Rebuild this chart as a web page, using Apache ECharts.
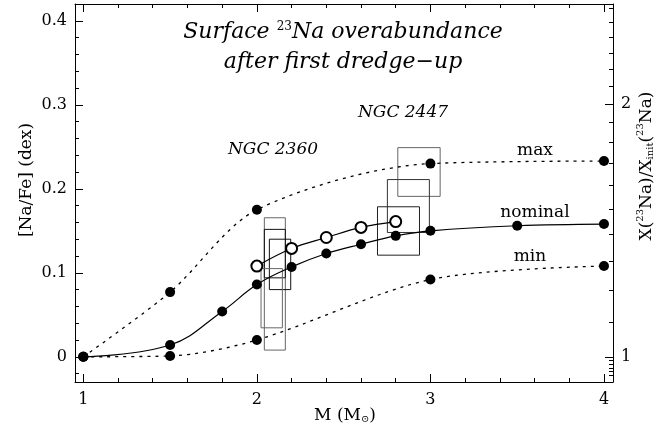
<!DOCTYPE html>
<html><head><meta charset="utf-8">
<script src="https://cdn.jsdelivr.net/npm/echarts@6/dist/echarts.min.js"></script>
<style>html,body{margin:0;padding:0;background:#fff}#c{width:666px;height:427px}</style>
</head><body><div id="c"></div>
<script>
// ---- data ----
const nominalMass = [1.0, 1.5, 1.8, 2.0, 2.2, 2.4, 2.6, 2.8, 3.0, 3.5, 4.0];
const nominalNaFe = [0, 0.014, 0.054, 0.086, 0.107, 0.123, 0.134, 0.144, 0.150, 0.156, 0.158];
const maxMass = [1.0, 1.5, 2.0, 3.0, 4.0];
const maxNaFe = [0, 0.077, 0.175, 0.230, 0.233];
const minMass = [1.0, 1.5, 2.0, 3.0, 4.0];
const minNaFe = [0, 0.001, 0.020, 0.092, 0.108];
const rotMass = [2.0, 2.2, 2.4, 2.6, 2.8];
const rotNaFe = [0.108, 0.129, 0.142, 0.154, 0.161];
// observational boxes: [massLow, massHigh, naFeLow, naFeHigh]
const ngc2360Boxes = [[2.043, 2.164, 0.008, 0.1655], [2.043, 2.164, 0.094, 0.1517], [2.072, 2.195, 0.080, 0.140], [2.024, 2.147, 0.0345, 0.105]];
const ngc2447Boxes = [[2.812, 3.056, 0.191, 0.249], [2.752, 2.994, 0.148, 0.211], [2.695, 2.937, 0.121, 0.1786]];
const ngc2360Shades = ['#666', '#111', '#111', '#666'];
const ngc2447Shades = ['#666', '#333', '#222'];
// ticks
const xMajorTicks = [1, 2, 3, 4];
const xMinorTicks = [1.2, 1.4, 1.6, 1.8, 2.2, 2.4, 2.6, 2.8, 3.2, 3.4, 3.6, 3.8];
const yMajorTicks = [0, 0.1, 0.2, 0.3, 0.4];
const yMinorTicks = [-0.02, 0.02, 0.04, 0.06, 0.08, 0.12, 0.14, 0.16, 0.18, 0.22, 0.24, 0.26, 0.28, 0.32, 0.34, 0.36, 0.38];
const ratioMajorTicks = [1, 2];
const ratioMinorTicks = [0.95, 0.96, 0.97, 0.98, 0.99, 1.1, 1.2, 1.3, 1.4, 1.5, 1.6, 1.7, 1.8, 1.9, 2.1, 2.2, 2.3, 2.4, 2.5, 2.6];

const X_MIN = 0.952, X_MAX = 4.052, Y_MIN = -0.03, Y_MAX = 0.42;
const SERIF = 'DejaVu Serif';
const zip = (a, b) => a.map((v, i) => [v, b[i]]);
const log10 = v => Math.log10(v);

function xAx(pos, vals, len, showLine, showLabel) {
  return {
    type: 'value', position: pos, min: X_MIN, max: X_MAX,
    axisLine: { show: showLine, onZero: false, lineStyle: { color: '#000', width: 1 } },
    axisTick: { show: true, inside: true, length: len, customValues: vals, lineStyle: { color: '#000', width: 1 } },
    axisLabel: showLabel ? { show: true, customValues: vals, margin: 10, color: '#000', fontFamily: SERIF, fontSize: 16, formatter: v => String(v) } : { show: false },
    splitLine: { show: false }
  };
}
function yAx(pos, vals, len, showLine, labelFmt) {
  return {
    type: 'value', position: pos, min: Y_MIN, max: Y_MAX,
    axisLine: { show: showLine, onZero: false, lineStyle: { color: '#000', width: 1 } },
    axisTick: { show: true, inside: true, length: len, customValues: vals, lineStyle: { color: '#000', width: 1 } },
    axisLabel: labelFmt ? { show: true, customValues: vals, margin: 8, color: '#000', fontFamily: SERIF, fontSize: 16, formatter: labelFmt } : { show: false },
    splitLine: { show: false }
  };
}

function boxSeries(boxes, shades) {
  return {
    type: 'custom', silent: true, z: 1,
    data: boxes.map((b, i) => [b[0], b[1], b[2], b[3], i]),
    encode: { x: [0, 1], y: [2, 3] },
    renderItem: (params, api) => {
      const p1 = api.coord([api.value(0), api.value(3)]);
      const p2 = api.coord([api.value(1), api.value(2)]);
      return {
        type: 'rect',
        shape: { x: p1[0], y: p1[1], width: p2[0] - p1[0], height: p2[1] - p1[1] },
        style: { fill: 'none', stroke: shades[api.value(4)], lineWidth: 1 }
      };
    }
  };
}

const chart = echarts.init(document.getElementById('c'), null, { renderer: 'canvas' });
const richBase = {
  n: { fontFamily: SERIF, fontSize: 17, lineHeight: 20, color: '#000', verticalAlign: 'bottom' },
  sup: { fontFamily: SERIF, fontSize: 10, lineHeight: 12, color: '#000', verticalAlign: 'top' },
  sub: { fontFamily: SERIF, fontSize: 10, lineHeight: 10, color: '#000', verticalAlign: 'bottom' }
};
const richTitle = {
  it: { fontFamily: SERIF, fontStyle: 'italic', fontSize: 22, lineHeight: 22, color: '#000', verticalAlign: 'bottom' },
  sup: { fontFamily: SERIF, fontSize: 12, lineHeight: 14, color: '#000', verticalAlign: 'top' }
};

chart.setOption({
  animation: false,
  backgroundColor: '#fff',
  grid: { left: 75, right: 53, top: 4, bottom: 45, containLabel: false },
  xAxis: [
    xAx('bottom', xMajorTicks, 8, true, true),
    xAx('bottom', xMinorTicks, 4, false, false),
    xAx('top', xMajorTicks, 8, true, false),
    xAx('top', xMinorTicks, 4, false, false)
  ],
  yAxis: [
    yAx('left', yMajorTicks, 8, true, v => String(Math.round(v * 10) / 10)),
    yAx('left', yMinorTicks, 4, false, null),
    yAx('right', ratioMajorTicks.map(log10), 8, true, v => String(Math.round(Math.pow(10, v)))),
    yAx('right', ratioMinorTicks.map(log10), 4, false, null)
  ],
  series: [
    boxSeries(ngc2360Boxes, ngc2360Shades),
    boxSeries(ngc2447Boxes, ngc2447Shades),
    {
      type: 'line', data: zip(maxMass, maxNaFe), smooth: 0.3, z: 3,
      symbol: 'circle', symbolSize: 10, itemStyle: { color: '#000' },
      lineStyle: { color: '#000', width: 1.3, type: [3, 5] }
    },
    {
      type: 'line', data: zip(minMass, minNaFe), smooth: 0.3, z: 3,
      symbol: 'circle', symbolSize: 10, itemStyle: { color: '#000' },
      lineStyle: { color: '#000', width: 1.3, type: [3, 5] }
    },
    {
      type: 'line', data: zip(nominalMass, nominalNaFe), smooth: 0.4, z: 4,
      symbol: 'circle', symbolSize: 10, itemStyle: { color: '#000' },
      lineStyle: { color: '#000', width: 1.2 }
    },
    {
      type: 'line', data: zip(rotMass, rotNaFe), smooth: 0.4, z: 4,
      symbol: 'emptyCircle', symbolSize: 11, itemStyle: { color: '#000', borderWidth: 1 },
      lineStyle: { color: '#000', width: 1.2 }
    }
  ],
  graphic: [
    { type: 'text', x: 343, y: 32, style: { text: '{it|Surface }{sup|23}{it|Na overabundance}', rich: richTitle, align: 'center', verticalAlign: 'middle' } },
    { type: 'text', x: 343, y: 62, style: { text: 'after first dredge\u2212up', fontFamily: SERIF, fontStyle: 'italic', fontSize: 22, fill: '#000', align: 'center', verticalAlign: 'middle' } },
    { type: 'text', x: 403, y: 113, style: { text: 'NGC 2447', fontFamily: SERIF, fontStyle: 'italic', fontSize: 17, fill: '#000', align: 'center', verticalAlign: 'middle' } },
    { type: 'text', x: 273, y: 150, style: { text: 'NGC 2360', fontFamily: SERIF, fontStyle: 'italic', fontSize: 17, fill: '#000', align: 'center', verticalAlign: 'middle' } },
    { type: 'text', x: 535, y: 151, style: { text: 'max', fontFamily: SERIF, fontSize: 17, fill: '#000', align: 'center', verticalAlign: 'middle' } },
    { type: 'text', x: 535, y: 213, style: { text: 'nominal', fontFamily: SERIF, fontSize: 17, fill: '#000', align: 'center', verticalAlign: 'middle' } },
    { type: 'text', x: 530, y: 257, style: { text: 'min', fontFamily: SERIF, fontSize: 17, fill: '#000', align: 'center', verticalAlign: 'middle' } },
    { type: 'text', x: 27, y: 180, rotation: Math.PI / 2, style: { text: '[Na/Fe] (dex)', fontFamily: SERIF, fontSize: 17, fill: '#000', align: 'center', verticalAlign: 'middle' } },
    { type: 'text', x: 345, y: 414, style: { text: '{n|M (M}{sub|\u2299}{n|)}', rich: richBase, align: 'center', verticalAlign: 'middle' } },
    { type: 'text', x: 645, y: 166, rotation: Math.PI / 2, style: { text: '{n|X(}{sup|23}{n|Na)/X}{sub|init}{n|(}{sup|23}{n|Na)}', rich: richBase, align: 'center', verticalAlign: 'middle' } }
  ]
});
</script>
</body></html>
